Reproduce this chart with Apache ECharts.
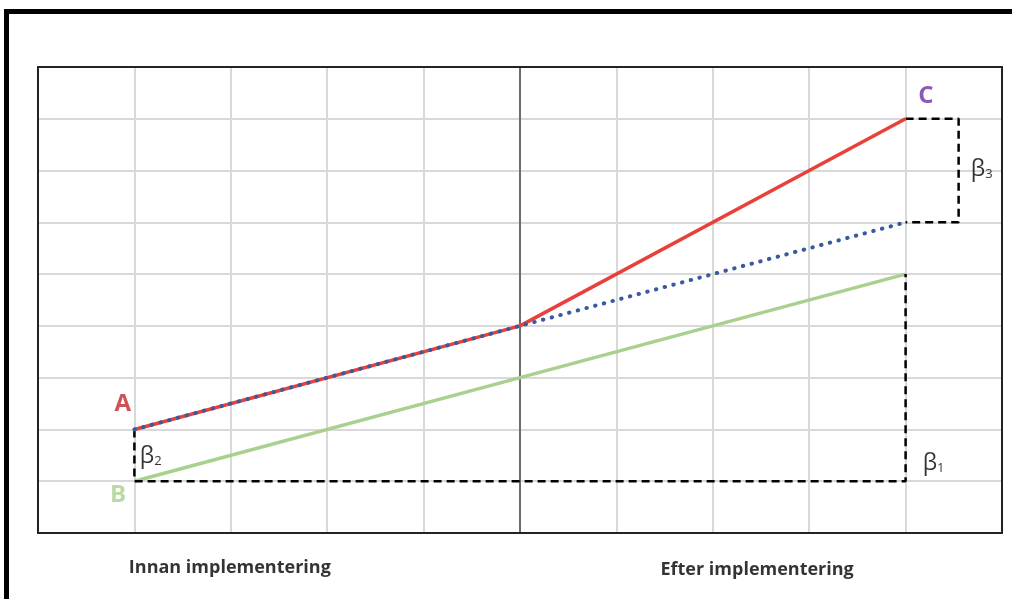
<!DOCTYPE html>
<html><head><meta charset="utf-8">
<script src="https://cdn.jsdelivr.net/npm/echarts@6/dist/echarts.min.js"></script>
<style>html,body{margin:0;padding:0;background:#fff}#c{width:1012px;height:599px}</style>
</head><body><div id="c"></div>
<script>
// Data (x = time grid units, y = outcome grid units)
const redLine = [[1, 2], [5, 4], [9, 8]];
const counterfactual = [[1, 2], [5, 4], [9, 6]];
const greenLine = [[1, 1], [5, 3], [9, 5]];
const interventionLine = [[5, 0], [5, 9]];
const beta1Path = [[1, 2], [1, 1], [9, 1], [9, 5]];
const beta3Path = [[9, 8], [9.55, 8], [9.55, 6], [9, 6]];
const pointLabels = [[0.88, 2.49, 'A'], [0.83, 0.73, 'B'], [9.21, 8.44, 'C']];
const betaLabels = [[1.17, 1.51, '2'], [9.29, 1.37, '1'], [9.79, 7.05, '3']];
const phaseLabels = [[1.99, -0.68, 'Innan implementering'], [7.46, -0.72, 'Efter implementering']];
const axisMin = [0, 0];
const axisMax = [10, 9];

const chart = echarts.init(document.getElementById('c'), null, {renderer: 'canvas'});
const font = 'Open Sans';
const letterColors = {A: '#C0282D', B: '#A9D18E', C: '#7030A0'};

chart.setOption({
  animation: false,
  backgroundColor: '#fff',
  grid: {left: 38, right: 10, top: 67, bottom: 66, containLabel: false},
  xAxis: {type: 'value', min: axisMin[0], max: axisMax[0], interval: 1,
    axisLine: {show: false}, axisTick: {show: false}, axisLabel: {show: false},
    splitLine: {lineStyle: {color: '#d9d9d9', width: 2}}},
  yAxis: {type: 'value', min: axisMin[1], max: axisMax[1], interval: 1,
    axisLine: {show: false}, axisTick: {show: false}, axisLabel: {show: false},
    splitLine: {lineStyle: {color: '#d9d9d9', width: 2}}},
  series: [
    {type: 'line', data: interventionLine, symbol: 'none', lineStyle: {color: '#000', width: 1}, z: 3},
    {type: 'line', data: greenLine, symbol: 'none', lineStyle: {color: '#A9D18E', width: 3.5}, z: 4},
    {type: 'line', data: beta1Path, symbol: 'none', lineStyle: {color: '#000', width: 2.5, type: [8, 5]}, z: 5},
    {type: 'line', data: beta3Path, symbol: 'none', lineStyle: {color: '#000', width: 2.5, type: [8, 5]}, z: 5},
    {type: 'line', data: redLine, symbol: 'none', lineStyle: {color: '#E8403A', width: 3.5}, z: 6},
    {type: 'line', data: counterfactual, symbol: 'none', lineStyle: {color: '#3A5AA0', width: 4, type: [0.5, 8.5], cap: 'round'}, z: 7},
    {type: 'scatter', clip: false, symbolSize: 0, z: 10,
      data: pointLabels.map(d => ({value: [d[0], d[1]], name: d[2],
        label: {show: true, position: 'inside', formatter: d[2], color: letterColors[d[2]],
          fontFamily: font, fontWeight: 'bold', fontSize: 24}}))},
    {type: 'scatter', clip: false, symbolSize: 0, z: 10,
      data: betaLabels.map(d => ({value: [d[0], d[1]],
        label: {show: true, position: 'inside', formatter: '{b|β}{s|' + d[2] + '}',
          rich: {b: {fontFamily: font, fontSize: 23, color: '#000', verticalAlign: 'bottom', lineHeight: 26},
                 s: {fontFamily: font, fontSize: 13, color: '#000', verticalAlign: 'bottom', lineHeight: 22}}}}))},
    {type: 'scatter', clip: false, symbolSize: 0, z: 10,
      data: phaseLabels.map(d => ({value: [d[0], d[1]],
        label: {show: true, position: 'inside', formatter: d[2], color: '#000',
          fontFamily: font, fontWeight: 'bold', fontSize: 18}}))}
  ]
});
const p0 = chart.convertToPixel({gridIndex: 0}, axisMin);
const p1 = chart.convertToPixel({gridIndex: 0}, axisMax);
chart.setOption({graphic: [
  {type: 'rect', shape: {x: 6.5, y: 11.5, width: 1200, height: 800},
    style: {fill: 'none', stroke: '#000', lineWidth: 5}, silent: true, z: 100},
  {type: 'rect', shape: {x: p0[0], y: p1[1], width: p1[0] - p0[0], height: p0[1] - p1[1]},
    style: {fill: 'none', stroke: '#222', lineWidth: 2}, silent: true, z: 90}
]});
</script></body></html>
